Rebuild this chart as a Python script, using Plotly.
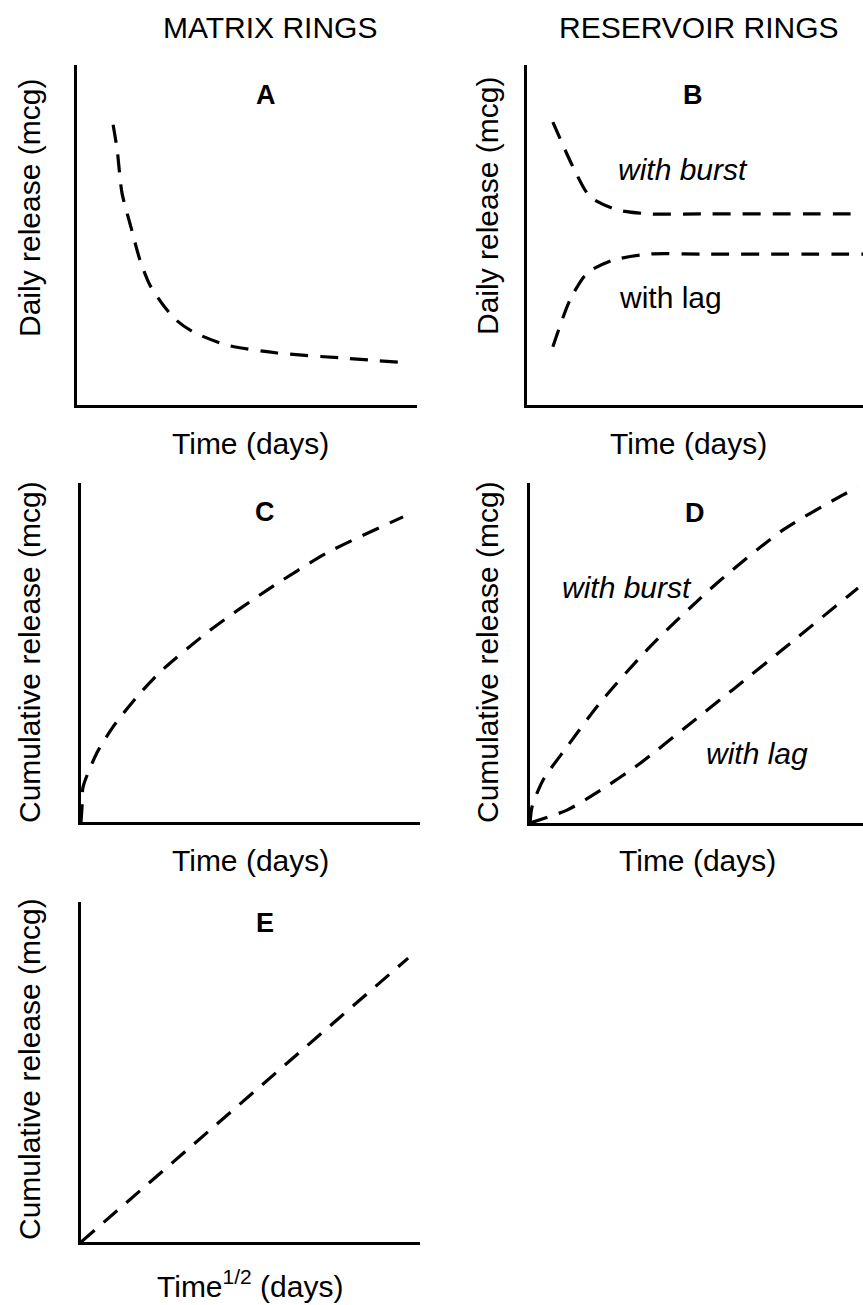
import plotly.graph_objects as go

# ---------------- data (arbitrary schematic units, 0-100 on each axis) ----------------
# Panel A: matrix ring, daily release
a_time = [10.7, 11.9, 13.3, 16.0, 18.6, 21.5, 25.4, 29.2, 34.2, 44.2, 58.9, 78.3, 97.4]
a_release = [82.4, 75.0, 62.4, 52.1, 42.6, 35.3, 29.4, 25.0, 21.5, 17.6, 15.3, 13.8, 12.4]

# Panel B: reservoir ring, daily release
b_burst_time = [7.7, 13.7, 18.8, 26.8, 36.6, 51.5, 100.0]
b_burst_release = [83.2, 70.0, 61.2, 57.4, 56.2, 56.2, 56.2]
b_lag_time = [7.7, 12.8, 17.9, 25.6, 36.6, 51.5, 100.0]
b_lag_release = [17.1, 30.9, 38.8, 42.6, 44.4, 44.4, 44.4]

# Panel C: matrix ring, cumulative release vs time
c_time = [0.0, 0.3, 0.6, 4.7, 9.4, 16.5, 23.3, 38.1, 54.9, 72.6, 95.0]
c_cum = [0.0, 4.4, 10.3, 20.4, 28.0, 36.9, 44.2, 56.6, 68.4, 79.4, 90.0]

# Panel D: reservoir ring, cumulative release vs time
d_burst_time = [0.0, 0.6, 3.9, 11.1, 21.0, 36.0, 56.2, 76.0, 94.0, 98.5]
d_burst_cum = [0.0, 4.7, 12.6, 22.4, 35.3, 51.8, 70.6, 86.2, 96.5, 98.8]
d_lag_time = [0.0, 11.1, 21.0, 33.0, 45.9, 61.0, 78.1, 95.2, 98.5]
d_lag_cum = [0.0, 3.8, 9.5, 17.5, 27.5, 39.3, 52.8, 66.5, 69.1]

# Panel E: matrix ring, cumulative release vs sqrt(time)
e_sqrt_time = [0.0, 48.0, 96.5]
e_cum = [0.0, 41.5, 83.5]

panel_letters = ["A", "B", "C", "D", "E"]
column_titles = ["MATRIX RINGS", "RESERVOIR RINGS"]

# ---------------- layout helpers ----------------
W, H = 863, 1305
FONT = "Liberation Sans, Arial, Helvetica, sans-serif"


def px(x):
    return x / W


def py(y):
    return 1 - y / H


# panel boxes in pixels: (left, right, top, bottom)
boxes = [
    (76.7, 417, 65, 405),   # A
    (527, 863, 65, 405),    # B
    (81, 420, 483, 822),    # C
    (530, 863, 483, 823),   # D
    (81, 420, 902, 1242),   # E
]

fig = go.Figure()

dash_line = dict(color="black", width=3.2, dash="18px,12px")

series = [
    (1, a_time, a_release, "spline"),
    (2, b_burst_time, b_burst_release, "spline"),
    (2, b_lag_time, b_lag_release, "spline"),
    (3, c_time, c_cum, "spline"),
    (4, d_burst_time, d_burst_cum, "spline"),
    (4, d_lag_time, d_lag_cum, "spline"),
    (5, e_sqrt_time, e_cum, "linear"),
]

for idx, xs, ys, shape in series:
    suffix = "" if idx == 1 else str(idx)
    line = dict(dash_line, shape=shape)
    if shape == "spline":
        line["smoothing"] = 0.7
    fig.add_trace(go.Scatter(
        x=xs, y=ys, mode="lines", line=line,
        xaxis="x" + suffix, yaxis="y" + suffix,
        showlegend=False, hoverinfo="skip",
        cliponaxis=False,
    ))

layout_axes = {}
for i, (l, r, t, b) in enumerate(boxes, start=1):
    suffix = "" if i == 1 else str(i)
    common = dict(showline=True, linecolor="black", linewidth=3, showgrid=False,
                  zeroline=False, showticklabels=False, ticks="", range=[0, 100],
                  fixedrange=True)
    layout_axes["xaxis" + suffix] = dict(common, domain=[px(l), px(r)], anchor="y" + suffix)
    layout_axes["yaxis" + suffix] = dict(common, domain=[py(b), py(t)], anchor="x" + suffix)

annotations = []


def add_text(text, x, y, size=30, bold=False, italic=False, angle=0):
    t = text
    if bold:
        t = "<b>" + t + "</b>"
    if italic:
        t = "<i>" + t + "</i>"
    annotations.append(dict(
        text=t, x=px(x), y=py(y), xref="paper", yref="paper",
        xanchor="center", yanchor="middle", showarrow=False, textangle=angle,
        font=dict(family=FONT, size=size, color="black"),
    ))


# column titles
add_text(column_titles[0], 270, 27)
add_text(column_titles[1], 699, 27)

# panel letters
letter_pos = [(266, 95), (693, 95), (265, 512), (695, 513), (265, 923)]
for letter, (x, y) in zip(panel_letters, letter_pos):
    add_text(letter, x, y, size=27, bold=True)

# x-axis titles
add_text("Time (days)", 251, 443)
add_text("Time (days)", 688, 443)
add_text("Time (days)", 251, 861)
add_text("Time (days)", 697, 861)
add_text("Time<sup>1/2</sup> (days)", 250, 1284)

# y-axis titles
add_text("Daily release (mcg)", 29, 208, angle=-90)
add_text("Daily release (mcg)", 487, 206, angle=-90)
add_text("Cumulative release (mcg)", 29, 652, angle=-90)
add_text("Cumulative release (mcg)", 487, 652, angle=-90)
add_text("Cumulative release (mcg)", 29, 1069, angle=-90)

# curve labels
add_text("with burst", 683, 170, italic=True)
add_text("with lag", 670, 297)
add_text("with burst", 627, 588, italic=True)
add_text("with lag", 757, 753, italic=True)

fig.update_layout(
    width=W, height=H,
    margin=dict(l=0, r=0, t=0, b=0),
    paper_bgcolor="white", plot_bgcolor="white",
    showlegend=False,
    annotations=annotations,
    **layout_axes,
)

fig.write_html(
    "out.html",
    config={"displayModeBar": False, "staticPlot": True},
    post_script="document.body.style.margin='0';document.body.style.padding='0';"
                "document.body.style.overflow='hidden';",
)
